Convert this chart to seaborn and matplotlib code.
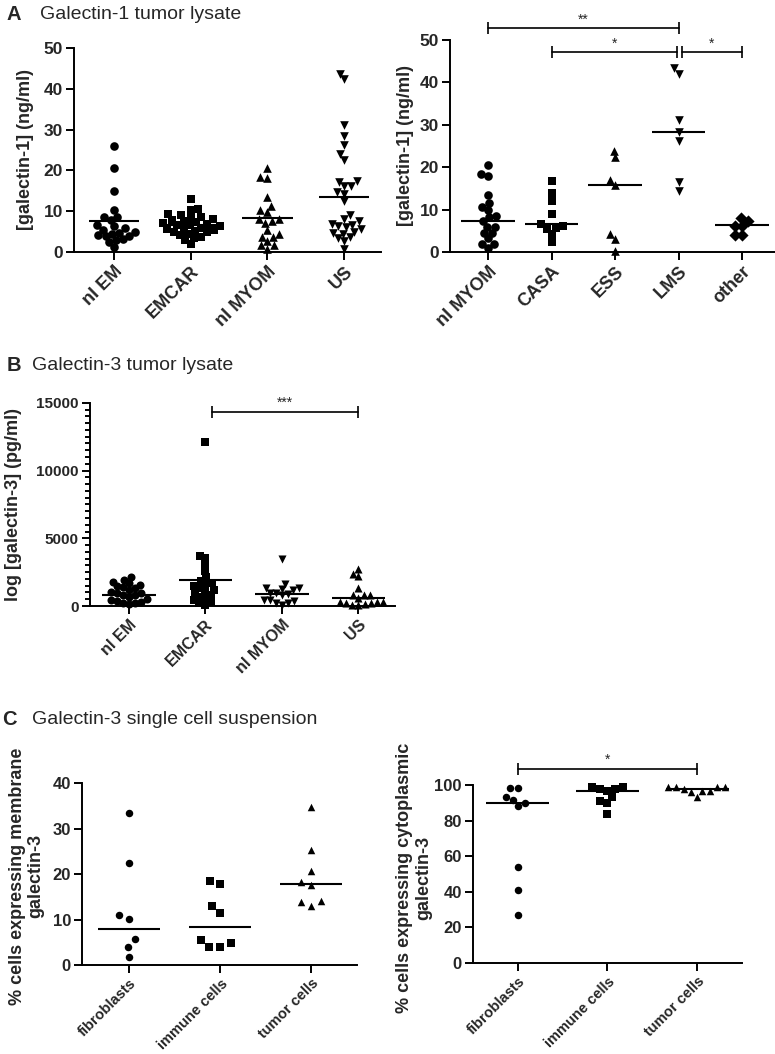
import numpy as np
import pandas as pd
import seaborn as sns
import matplotlib
matplotlib.use("Agg")
import matplotlib.pyplot as plt
from matplotlib.ticker import MultipleLocator

sns.set_theme(style="ticks")
plt.rcParams['font.family'] = ['Liberation Sans', 'DejaVu Sans']

# -----------------------------
# DATA
# -----------------------------

# A left: galectin-1 (ng/ml)
cats_a1 = ["nl EM", "EMCAR", "nl MYOM", "US"]
nl_em_gal1 = [25.9, 20.6, 14.9, 10.4, 8.7, 8.6, 7.8, 6.5, 6.3, 5.9, 5.5, 5.0, 4.7, 4.5,
              4.2, 4.0, 3.9, 3.2, 3.0, 2.4, 1.2]
emcar_gal1 = [13.1, 10.5, 10.4, 9.2, 9.0, 8.6, 8.3, 8.0, 7.8, 7.5, 7.3, 7.0, 6.8, 6.6,
              6.5, 6.3, 6.0, 5.8, 5.6, 5.4, 5.2, 5.0, 4.8, 4.5, 4.2, 3.8, 3.5, 2.9, 2.0]
nl_myom_gal1 = [20.6, 18.1, 18.3, 13.5, 11.2, 10.2, 9.8, 8.1, 8.1, 7.5, 7.1, 5.5, 4.5,
                3.7, 3.6, 2.6, 1.6, 1.6, 0.7]
us_gal1 = [43.7, 42.4, 31.2, 28.5, 26.3, 24.0, 22.6, 17.3, 17.2, 16.2, 16.1, 14.6, 14.2,
           12.4, 9.1, 8.0, 7.5, 6.9, 6.7, 6.4, 6.1, 5.6, 5.0, 4.6, 4.5, 3.7, 3.4, 2.6, 0.7]
centre_a1 = [7.5, 6.7, 8.4, 13.5]

# A right: galectin-1 by sarcoma subtype
cats_a2 = ["nl MYOM", "CASA", "ESS", "LMS", "other"]
myom_sub = [20.6, 18.3, 18.0, 13.5, 11.5, 10.6, 9.9, 8.4, 8.2, 7.2, 6.0, 5.9, 4.6, 4.5,
            3.2, 1.8, 1.8, 0.9]
casa_sub = [16.8, 13.9, 12.0, 8.9, 6.6, 6.1, 5.6, 5.5, 4.3, 2.4]
ess_sub = [23.9, 22.3, 17.0, 15.8, 4.3, 3.1, 0.3]
lms_sub = [43.3, 42.1, 31.2, 28.4, 26.1, 16.4, 14.5]
other_sub = [8.0, 7.2, 6.2, 6.2, 4.0, 4.0]
centre_a2 = [7.3, 6.5, 15.9, 28.2, 6.3]
brackets_a2 = [(0, 3, 52.8, "**"), (1, 2.97, 47.2, "*"), (3.05, 4, 47.2, "*")]

# B: galectin-3 (pg/ml)
cats_b = ["nl EM", "EMCAR", "nl MYOM", "US"]
nl_em_gal3 = [2130, 1950, 1800, 1700, 1580, 1450, 1400, 1330, 1200, 1050, 950, 950, 830,
              800, 650, 500, 450, 400, 330, 250, 200, 150]
emcar_gal3 = [12100, 3700, 3520, 3030, 2580, 2130, 1880, 1700, 1580, 1450, 1300, 1200,
              1080, 1000, 800, 700, 580, 450, 330, 200, 100]
nl_myom_gal3 = [3450, 1630, 1330, 1300, 1250, 1200, 950, 950, 880, 800, 450, 420, 380,
                250, 200, 50]
us_gal3 = [2700, 2380, 2200, 1330, 830, 820, 800, 580, 330, 320, 300, 250, 200, 150, 100, 50]
centre_b = [800, 1900, 900, 600]
brackets_b = [(1.08, 3, 14340, "***")]

# C: single cell suspension (%)
cats_c = ["fibroblasts", "immune cells", "tumor cells"]
fib_membrane = [33.5, 22.4, 10.9, 10.1, 5.8, 4.0, 1.7]
imm_membrane = [18.5, 17.9, 12.9, 11.4, 5.5, 4.8, 4.0, 4.0]
tum_membrane = [34.8, 25.2, 20.6, 18.2, 17.5, 14.1, 13.8, 12.9]
centre_c1 = [8.0, 8.4, 17.9]

fib_cyto = [98.1, 98.1, 93.1, 91.6, 90.1, 88.2, 54.2, 41.1, 26.9]
imm_cyto = [99.1, 98.7, 97.8, 97.6, 96.6, 93.1, 91.2, 89.7, 83.7]
tum_cyto = [99.1, 98.7, 98.7, 98.7, 97.6, 96.8, 96.6, 96.3, 93.5]
centre_c2 = [90.0, 96.8, 97.6]
brackets_c2 = [(0, 2, 109, "*")]

# -----------------------------
# HELPERS
# -----------------------------

LW = 1.4
swarm_colls = []


def draw_groups(ax, cats, groups, markers, centres, size, half, spread):
    # swarm laid out with a different dot size (spread) than drawn -> Prism-like scatter
    for cat, vals, m in zip(cats, groups, markers):
        d = pd.DataFrame({"group": [cat] * len(vals), "value": vals})
        n_before = len(ax.collections)
        sns.swarmplot(data=d, x="group", y="value", order=cats, marker=m,
                      color="black", size=size * spread, linewidth=0, ax=ax,
                      clip_on=False, warn_thresh=1)
        for coll in ax.collections[n_before:]:
            if len(coll.get_offsets()) > 0:
                swarm_colls.append((coll, size))
    pos = np.arange(len(cats))
    ax.hlines(centres, pos - half, pos + half, color="black", lw=1.5, zorder=5)


def style_axes(ax, cats, ylim, ystep, xlim, cat_fs, tick_fs):
    ax.set_ylim(*ylim)
    ax.set_xlim(*xlim)
    ax.yaxis.set_major_locator(MultipleLocator(ystep))
    ax.set_xticks(range(len(cats)))
    ax.set_xticklabels(cats, rotation=45, ha="right", rotation_mode="anchor",
                       fontsize=cat_fs, fontweight="bold")
    for lab in ax.get_yticklabels():
        lab.set_fontsize(tick_fs)
        lab.set_fontweight("bold")
    ax.set_xlabel("")
    ax.set_ylabel("")
    sns.despine(ax=ax)
    for s in ["left", "bottom"]:
        ax.spines[s].set_linewidth(LW)
        ax.spines[s].set_color("black")
    ax.tick_params(direction="out", length=6, width=LW, color="black", pad=2)
    ax.tick_params(axis="x", pad=2)


def add_brackets(ax, brackets, star_offset):
    for x0, x1, y, label in brackets:
        ax.plot([x0, x1], [y, y], color="black", lw=1.2, marker="|",
                markersize=9, mew=1.2, clip_on=False)
        ax.text((x0 + x1) / 2, y + star_offset, label, ha="center", va="bottom",
                fontsize=10, clip_on=False)


fig = plt.figure(figsize=(7.75, 10.54), dpi=100)

# -----------------------------
# A
# -----------------------------
ax = fig.add_axes([0.0955, 0.7609, 0.3961, 0.1936])
draw_groups(ax, cats_a1, [nl_em_gal1, emcar_gal1, nl_myom_gal1, us_gal1],
            ["o", "s", "^", "v"], centre_a1, 6.2, 0.33, 0.8)
style_axes(ax, cats_a1, (0, 50), 10, (-0.52, 3.48), 13, 12.5)

ax = fig.add_axes([0.5806, 0.7609, 0.4194, 0.2011])
draw_groups(ax, cats_a2, [myom_sub, casa_sub, ess_sub, lms_sub, other_sub],
            ["o", "s", "^", "v", "D"], centre_a2, 6.2, 0.42, 0.8)
style_axes(ax, cats_a2, (0, 50), 10, (-0.6, 4.52), 13, 12.5)
add_brackets(ax, brackets_a2, 0.3)

# -----------------------------
# B
# -----------------------------
ax = fig.add_axes([0.1161, 0.4250, 0.3936, 0.1929])
draw_groups(ax, cats_b, [nl_em_gal3, emcar_gal3, nl_myom_gal3, us_gal3],
            ["o", "s", "v", "^"], centre_b, 5.8, 0.35, 0.75)
style_axes(ax, cats_b, (0, 15000), 5000, (-0.51, 3.48), 11.5, 11)
ax.yaxis.set_minor_locator(MultipleLocator(500))
ax.tick_params(axis="y", which="minor", direction="out", length=3.5, width=LW,
               color="black")
add_brackets(ax, brackets_b, 150)

# -----------------------------
# C
# -----------------------------
ax = fig.add_axes([0.1058, 0.0844, 0.3548, 0.1727])
draw_groups(ax, cats_c, [fib_membrane, imm_membrane, tum_membrane],
            ["o", "s", "^"], centre_c1, 5.4, 0.34, 1.4)
style_axes(ax, cats_c, (0, 40), 10, (-0.52, 2.5), 10.5, 12)

ax = fig.add_axes([0.6103, 0.0863, 0.3471, 0.1689])
draw_groups(ax, cats_c, [fib_cyto, imm_cyto, tum_cyto],
            ["o", "s", "^"], centre_c2, 5.4, 0.35, 1.0)
style_axes(ax, cats_c, (0, 100), 20, (-0.5, 2.5), 10.5, 12)
add_brackets(ax, brackets_c2, 1)

# -----------------------------
# PANEL TITLES AND AXIS LABELS
# -----------------------------
for letter, lx, tx, ty, title in [("A", 0.009, 0.0516, 0.9858, "Galectin-1 tumor lysate"),
                                   ("B", 0.009, 0.0413, 0.6537, "Galectin-3 tumor lysate"),
                                   ("C", 0.003, 0.0413, 0.3169, "Galectin-3 single cell suspension")]:
    fig.text(lx, ty, letter, fontsize=14.5, fontweight="bold", va="center")
    fig.text(tx, ty, title, fontsize=14, va="center")

ylab = dict(rotation=90, ha="center", va="center", fontsize=13, fontweight="bold",
            multialignment="center", linespacing=1.15)
fig.text(0.0323, 0.8577, "[galectin-1] (ng/ml)", **ylab)
fig.text(0.5226, 0.8615, "[galectin-1] (ng/ml)", **ylab)
fig.text(0.0168, 0.5218, "log [galectin-3] (pg/ml)", **ylab)
fig.text(0.0342, 0.1689, "% cells expressing membrane\ngalectin-3", **ylab)
fig.text(0.5340, 0.1670, "% cells expressing cytoplasmic\ngalectin-3", **ylab)

# lay out the swarms once, then freeze positions and draw the dots full size
fig.canvas.draw()
for coll, size in swarm_colls:
    if "draw" in coll.__dict__:
        del coll.draw
    coll.set_sizes([size ** 2])

fig.savefig("out.png", dpi=100, facecolor="white")
